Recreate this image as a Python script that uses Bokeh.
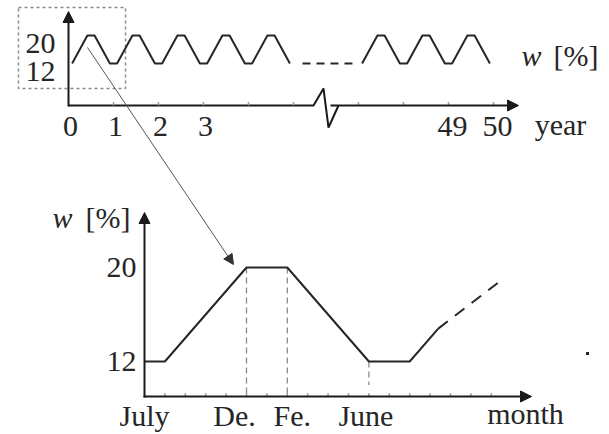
from bokeh.plotting import figure
from bokeh.models import Range1d, Arrow, NormalHead
from bokeh.core.properties import value
from bokeh.embed import file_html
from bokeh.resources import INLINE

# ---------------- data ----------------
# Top panel: w [%] over the years (left part, gap, right part)
years_a = [0.08, 0.42, 0.58, 0.92, 1.08, 1.42, 1.58, 1.92, 2.08, 2.42,
           2.58, 2.92, 3.08, 3.42, 3.58, 3.92, 4.08, 4.42, 4.58, 4.92]
w_a = [12, 20, 20, 12, 12, 20, 20, 12, 12, 20,
       20, 12, 12, 20, 20, 12, 12, 20, 20, 12]
years_gap = [5.2, 6.31]
w_gap = [12, 12]
years_b = [47.08, 47.42, 47.58, 47.92, 48.08, 48.42, 48.58, 48.92,
           49.08, 49.42, 49.58, 49.92]
w_b = [12, 20, 20, 12, 12, 20, 20, 12, 12, 20, 20, 12]
year_ticks_a = [1, 2, 3, 4, 5]
year_ticks_b = [47, 48, 49, 50]
year_label_pos_a = [0, 1, 2, 3]
year_labels_a = ["0", "1", "2", "3"]
year_label_pos_b = [49, 50]
year_labels_b = ["49", "50"]
top_w_ticks = [20, 12]
top_w_labels = ["20", "12"]

# Bottom panel: one year, months counted from July (0)
months = [0, 1, 5, 7, 11, 13, 14.4]
w_month = [12, 12, 20, 20, 12, 12, 14.8]
months_dash = [14.4, 17.4]
w_dash = [14.8, 18.8]
month_ticks = [1, 2, 3, 4, 5, 6, 7, 8, 9, 10, 11, 12, 13, 14, 15, 16, 17]
month_label_pos = [0, 5, 7, 11]
month_labels = ["July", "De.", "Fe.", "June"]
guide_months = [5, 7, 11]
guide_w_top = [20, 20, 12]
guide_w_bottom = [9.02, 9.02, 10.0]
bot_w_ticks = [20, 12]
bot_w_labels = ["20", "12"]

# ---------------- figure ----------------
W, H = 609, 434
p = figure(width=W, height=H, x_range=Range1d(0, W), y_range=Range1d(H, 0),
           output_backend="svg", toolbar_location=None, min_border=0,
           x_axis_type=None, y_axis_type=None)
p.grid.visible = False
p.outline_line_color = None
p.background_fill_color = "white"
p.border_fill_color = "white"

# scales: top panel (year 0 at x=68, 45 px/year; w=0 at y=105, 3.5 px/unit)
p.extra_x_ranges = {
    "yr_a": Range1d(-68 / 45, (W - 68) / 45),
    "yr_b": Range1d(50 - 493 / 45, 50 + (W - 493) / 45),
    "mo": Range1d(-144 / 20.4, (W - 144) / 20.4),
}
p.extra_y_ranges = {
    "w_top": Range1d(-(H - 105) / 3.5, 105 / 3.5),
    "w_bot": Range1d(12 - (H - 361) / 11.75, 12 + 361 / 11.75),
}

FONT = value("Liberation Serif")
FS = "30px"
INK = "#262626"
AX = "#1a1a1a"

# ---- top panel ----
# dotted zoom box
p.line([18, 125, 125, 18, 18], [7, 7, 88, 88, 7], line_color="#8a8a8a",
       line_width=1.5, line_dash="3 3")

# axes
p.line([68, 313, 323, 328, 338], [105, 105, 88, 127, 105], line_color=AX, line_width=2)
p.add_layout(Arrow(end=NormalHead(size=11, fill_color=AX, line_color=AX),
                   x_start=330, y_start=105, x_end=518, y_end=105,
                   line_color=AX, line_width=2))
p.add_layout(Arrow(end=NormalHead(size=11, fill_color=AX, line_color=AX),
                   x_start=68, y_start=106, x_end=68, y_end=11,
                   line_color=AX, line_width=2))
p.segment(x0=year_ticks_a, x1=year_ticks_a, y0=[0] * 5, y1=[1] * 5,
          x_range_name="yr_a", y_range_name="w_top", line_color="#9a9a9a", line_width=1.5)
p.segment(x0=year_ticks_b, x1=year_ticks_b, y0=[0] * 4, y1=[1] * 4,
          x_range_name="yr_b", y_range_name="w_top", line_color="#9a9a9a", line_width=1.5)

# waves
p.line(years_a, w_a, x_range_name="yr_a", y_range_name="w_top",
       line_color=INK, line_width=2)
p.line(years_gap, w_gap, x_range_name="yr_a", y_range_name="w_top",
       line_color=INK, line_width=2, line_dash="8 6")
p.line(years_b, w_b, x_range_name="yr_b", y_range_name="w_top",
       line_color=INK, line_width=2)

# labels
p.text(x=[0, 0], y=top_w_ticks, text=top_w_labels, x_range_name="yr_a",
       y_range_name="w_top", x_offset=-13, y_offset=8, text_align="right",
       text_baseline="middle", text_font=FONT, text_font_size=FS, text_color=INK)
p.text(x=year_label_pos_a, y=[-6] * 4, text=year_labels_a, x_range_name="yr_a",
       y_range_name="w_top", x_offset=2, text_align="center", text_baseline="middle",
       text_font=FONT, text_font_size=FS, text_color=INK)
p.text(x=year_label_pos_b, y=[-6] * 2, text=year_labels_b, x_range_name="yr_b",
       y_range_name="w_top", x_offset=4, text_align="center", text_baseline="middle",
       text_font=FONT, text_font_size=FS, text_color=INK)
p.text(x=[560], y=[124], text=["year"], text_align="center", text_baseline="middle",
       text_font=FONT, text_font_size=FS, text_color=INK)
p.text(x=[521], y=[55], text=["w"], text_align="left", text_baseline="middle",
       text_font=FONT, text_font_size=FS, text_font_style="italic", text_color=INK)
p.text(x=[553], y=[55], text=["[%]"], text_align="left", text_baseline="middle",
       text_font=FONT, text_font_size=FS, text_color=INK)

# connecting arrow
p.add_layout(Arrow(end=NormalHead(size=10, fill_color="#333333", line_color="#333333"),
                   x_start=87, y_start=47, x_end=233, y_end=264,
                   line_color="#555555", line_width=1))

# ---- bottom panel ----
p.add_layout(Arrow(end=NormalHead(size=11, fill_color=AX, line_color=AX),
                   x_start=144, y_start=397, x_end=144, y_end=212,
                   line_color=AX, line_width=2))
p.add_layout(Arrow(end=NormalHead(size=11, fill_color=AX, line_color=AX),
                   x_start=143, y_start=396, x_end=531, y_end=396,
                   line_color=AX, line_width=2))
p.segment(x0=month_ticks, x1=month_ticks, y0=[9.02] * 17, y1=[9.3] * 17,
          x_range_name="mo", y_range_name="w_bot", line_color="#9a9a9a", line_width=1.5)
p.segment(x0=guide_months, x1=guide_months, y0=guide_w_top, y1=guide_w_bottom,
          x_range_name="mo", y_range_name="w_bot", line_color="#8a8a8a",
          line_width=1.3, line_dash="6 4")
p.line(months, w_month, x_range_name="mo", y_range_name="w_bot",
       line_color=INK, line_width=2)
p.line(months_dash, w_dash, x_range_name="mo", y_range_name="w_bot",
       line_color=INK, line_width=2, line_dash="12 9")

p.text(x=[0, 0], y=bot_w_ticks, text=bot_w_labels, x_range_name="mo",
       y_range_name="w_bot", x_offset=-8, text_align="right", text_baseline="middle",
       text_font=FONT, text_font_size=FS, text_color=INK)
p.text(x=month_label_pos, y=[7.4] * 4, text=month_labels, x_range_name="mo",
       y_range_name="w_bot", x_offset=[0, -12, 5, -3], text_align="center",
       text_baseline="middle", text_font=FONT, text_font_size=FS, text_color=INK)
p.text(x=[525], y=[413], text=["month"], text_align="center", text_baseline="middle",
       text_font=FONT, text_font_size=FS, text_color=INK)
p.text(x=[52], y=[217], text=["w"], text_align="left", text_baseline="middle",
       text_font=FONT, text_font_size=FS, text_font_style="italic", text_color=INK)
p.text(x=[85], y=[217], text=["[%]"], text_align="left", text_baseline="middle",
       text_font=FONT, text_font_size=FS, text_color=INK)

# small stray mark
p.scatter(x=[587], y=[353], size=3, marker="square", fill_color=INK, line_color=None)

open("out.html", "w").write(file_html(p, INLINE))
